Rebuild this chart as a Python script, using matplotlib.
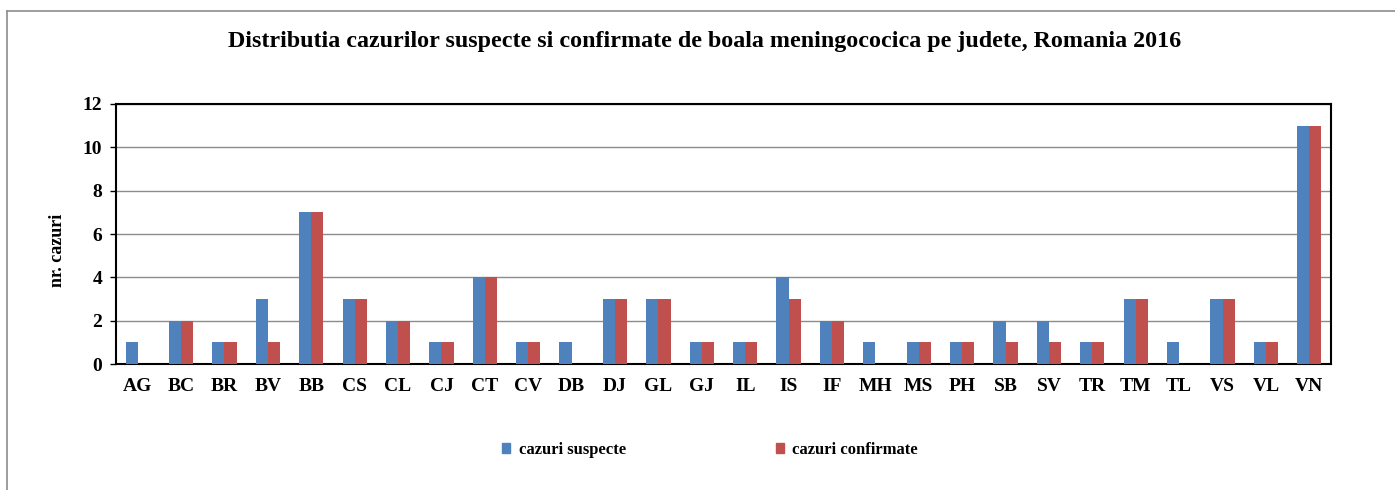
import matplotlib
matplotlib.use("Agg")
import matplotlib.pyplot as plt
import numpy as np
from matplotlib.patches import Patch
from matplotlib.lines import Line2D

categories = ["AG", "BC", "BR", "BV", "BB", "CS", "CL", "CJ", "CT", "CV", "DB", "DJ", "GL", "GJ",
              "IL", "IS", "IF", "MH", "MS", "PH", "SB", "SV", "TR", "TM", "TL", "VS", "VL", "VN"]
suspecte = [1, 2, 1, 3, 7, 3, 2, 1, 4, 1, 1, 3, 3, 1, 1, 4, 2, 1, 1, 1, 2, 2, 1, 3, 1, 3, 1, 11]
confirmate = [0, 2, 1, 1, 7, 3, 2, 1, 4, 1, 0, 3, 3, 1, 1, 3, 2, 0, 1, 1, 1, 1, 1, 3, 0, 3, 1, 11]
yticks = [0, 2, 4, 6, 8, 10, 12]

plt.rcParams['font.family'] = ['Liberation Serif', 'DejaVu Serif']
plt.rcParams['font.weight'] = 'bold'

W, H = 1395, 490
fig = plt.figure(figsize=(W / 100, H / 100), dpi=100)
ax = fig.add_axes([116 / W, 1 - 364 / H, (1331 - 116) / W, (364 - 104) / H])

x = np.arange(len(categories))
bw = 0.28
c1, c2 = "#4F81BD", "#C0504D"
ax.bar(x - bw / 2, suspecte, bw, color=c1, zorder=3, label="cazuri suspecte")
ax.bar(x + bw / 2, confirmate, bw, color=c2, zorder=3, label="cazuri confirmate")

ax.set_xlim(-0.5, len(categories) - 0.5)
ax.set_ylim(0, 12)
ax.set_yticks(yticks)
ax.set_yticklabels([str(v) for v in yticks], fontsize=14, fontweight='bold')
ax.set_xticks(x)
ax.set_xticklabels(categories, fontsize=14, fontweight='bold')
ax.tick_params(axis='x', length=0, pad=10)
ax.tick_params(axis='y', length=4, width=1, pad=6, direction='out')
ax.yaxis.grid(True, color='#8c8c8c', linewidth=1, zorder=0)
for s in ax.spines.values():
    s.set_linewidth(1.5)
    s.set_color('black')

fig.text(57 / W, 1 - 250 / H, "nr. cazuri", rotation=90, ha='center', va='center',
         fontsize=13, fontweight='bold')

fig.text(705 / W, 1 - 42 / H, "Distributia cazurilor suspecte si confirmate de boala meningococica pe judete, Romania 2016",
         ha='center', va='center', fontsize=17.3, fontweight='bold')

handles = [Patch(color=c1), Patch(color=c2)]
fig.legend(handles, ["cazuri suspecte", "cazuri confirmate"], loc='center',
           bbox_to_anchor=(710 / W, 1 - 450 / H), ncol=2, frameon=False,
           handlelength=0.5, handleheight=0.5, handletextpad=0.5,
           columnspacing=9.0, prop={'weight': 'bold', 'size': 12})

# partial outer border (top and left visible)
fig.add_artist(Line2D([7 / W, 7 / W], [0, 1 - 11 / H], transform=fig.transFigure, color='#8c8c8c', linewidth=1.2))
fig.add_artist(Line2D([7 / W, 1], [1 - 11 / H, 1 - 11 / H], transform=fig.transFigure, color='#8c8c8c', linewidth=1.2))

fig.savefig("out.png", dpi=100)
